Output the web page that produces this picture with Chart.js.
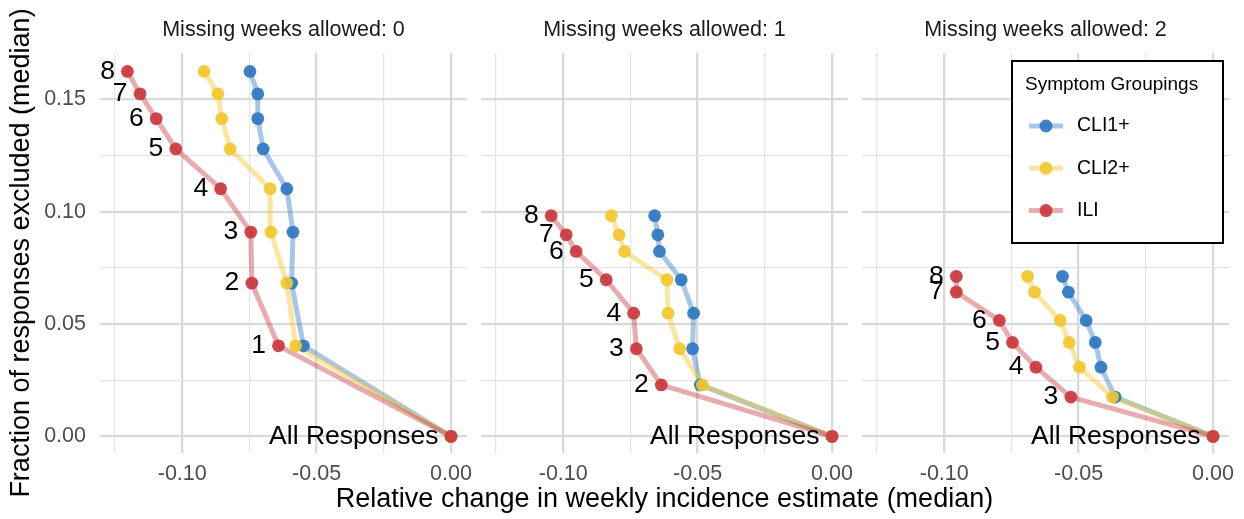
<!DOCTYPE html>
<html><head><meta charset="utf-8">
<script src="https://cdn.jsdelivr.net/npm/chart.js@4.4.1/dist/chart.umd.min.js"></script>
<style>
html,body{margin:0;padding:0;background:#fff;}
#wrap{position:relative;width:1244px;height:519px;overflow:hidden;background:#fff;}
canvas{position:absolute;left:0;top:0;}
</style></head><body>
<div id="wrap">
<canvas id="c0" width="1244" height="519"></canvas>
<canvas id="c1" width="1244" height="519"></canvas>
<canvas id="c2" width="1244" height="519"></canvas>
</div>
<script>
// ---------- data ----------
const panelTitles = ["Missing weeks allowed: 0", "Missing weeks allowed: 1", "Missing weeks allowed: 2"];
const seriesNames = ["CLI1+", "CLI2+", "ILI"];
const xAxisTitle = "Relative change in weekly incidence estimate (median)";
const yAxisTitle = "Fraction of responses excluded (median)";
const legendTitle = "Symptom Groupings";
const xTickValues = [-0.125, -0.1, -0.075, -0.05, -0.025, 0];
const yTickValues = [0, 0.025, 0.05, 0.075, 0.1, 0.125, 0.15];

// Panel 0: missing weeks allowed 0
const levels0   = ["All Responses", "1", "2", "3", "4", "5", "6", "7", "8"];
const excluded0 = [0, 0.0403, 0.0682, 0.0909, 0.1102, 0.1279, 0.1414, 0.1524, 0.1624];
const cli1_0    = [0, -0.0549, -0.0593, -0.0588, -0.0611, -0.0699, -0.0719, -0.0719, -0.0748];
const cli2_0    = [0, -0.0578, -0.0611, -0.0670, -0.0673, -0.0822, -0.0853, -0.0867, -0.0919];
const ili_0     = [0, -0.0642, -0.0741, -0.0745, -0.0857, -0.1024, -0.1097, -0.1157, -0.1204];

// Panel 1: missing weeks allowed 1
const levels1   = ["All Responses", "2", "3", "4", "5", "6", "7", "8"];
const excluded1 = [0, 0.0229, 0.0390, 0.0548, 0.0697, 0.0823, 0.0897, 0.0982];
const cli1_1    = [0, -0.0490, -0.0519, -0.0515, -0.0561, -0.0642, -0.0648, -0.0660];
const cli2_1    = [0, -0.0482, -0.0567, -0.0610, -0.0614, -0.0772, -0.0792, -0.0821];
const ili_1     = [0, -0.0635, -0.0728, -0.0738, -0.0840, -0.0952, -0.0989, -0.1045];

// Panel 2: missing weeks allowed 2
const levels2   = ["All Responses", "3", "4", "5", "6", "7", "8"];
const excluded2 = [0, 0.0175, 0.0308, 0.0418, 0.0516, 0.0642, 0.0712];
const cli1_2    = [0, -0.0364, -0.0417, -0.0438, -0.0472, -0.0538, -0.0560];
const cli2_2    = [0, -0.0374, -0.0497, -0.0535, -0.0568, -0.0664, -0.0690];
const ili_2     = [0, -0.0529, -0.0659, -0.0746, -0.0795, -0.0955, -0.0955];

// ---------- styling ----------
const FONT = "'Liberation Sans', Arial, Helvetica, sans-serif";
Chart.defaults.font.family = FONT;
const pointColors = ['rgba(47,119,195,0.93)', 'rgba(242,199,48,0.93)', 'rgba(201,57,63,0.93)'];
const lineColors  = ['rgba(47,119,195,0.42)', 'rgba(242,199,48,0.45)', 'rgba(201,57,63,0.42)'];
const panels = [
  {levels: levels0, y: excluded0, series: [cli1_0, cli2_0, ili_0]},
  {levels: levels1, y: excluded1, series: [cli1_1, cli2_1, ili_1]},
  {levels: levels2, y: excluded2, series: [cli1_2, cli2_2, ili_2]}
];
const areaLeft  = [100, 481, 862];
const areaRight = [467, 848, 1229];
const CW = 1244, CH = 519;

const isMajor = v => Math.abs(Math.round(v / 0.05) * 0.05 - v) < 1e-9;
const gridColor = ctx => (ctx.tick && isMajor(ctx.tick.value)) ? '#d9d9d9' : '#e4e4e4';
const gridWidth = ctx => (ctx.tick && isMajor(ctx.tick.value)) ? 2.3 : 1.2;

// labels next to ILI points
const pointLabelPlugin = {
  id: 'pointLabels',
  afterDatasetsDraw(chart) {
    const P = panels[chart.options.panelIndex];
    const idx = chart.data.datasets.findIndex(d => d.label === 'ILI');
    const meta = chart.getDatasetMeta(idx);
    const ctx = chart.ctx;
    ctx.save();
    ctx.font = '26.5px ' + FONT;
    ctx.fillStyle = '#000';
    ctx.textAlign = 'right';
    ctx.textBaseline = 'middle';
    meta.data.forEach((pt, i) => { ctx.fillText(P.levels[i], pt.x - 12.5, pt.y); });
    ctx.restore();
  }
};

// shared axis titles (span several panels)
const axisTitlePlugin = {
  id: 'axisTitles',
  afterDraw(chart) {
    const p = chart.options.panelIndex;
    const ctx = chart.ctx, ca = chart.chartArea;
    ctx.save();
    ctx.font = '27px ' + FONT;
    ctx.fillStyle = '#000';
    ctx.textAlign = 'center';
    ctx.textBaseline = 'middle';
    if (p === 0) {
      ctx.translate(22, (ca.top + ca.bottom) / 2);
      ctx.rotate(-Math.PI / 2);
      ctx.fillText(yAxisTitle, 0, 0);
    } else if (p === 1) {
      ctx.fillText(xAxisTitle, (ca.left + ca.right) / 2, 500);
    }
    ctx.restore();
  }
};

// boxed legend inside last panel
const legendBoxPlugin = {
  id: 'legendBox',
  afterDraw(chart) {
    if (chart.options.panelIndex !== 2) return;
    const ctx = chart.ctx, ca = chart.chartArea;
    const bx = ca.right - 217, by = ca.top + 8, bw = 211, bh = 182;
    ctx.save();
    ctx.fillStyle = '#fff';
    ctx.fillRect(bx, by, bw, bh);
    ctx.strokeStyle = '#000';
    ctx.lineWidth = 2;
    ctx.strokeRect(bx, by, bw, bh);
    ctx.fillStyle = '#000';
    ctx.textAlign = 'left';
    ctx.textBaseline = 'middle';
    ctx.font = '19px ' + FONT;
    ctx.fillText(legendTitle, bx + 13, by + 24);
    for (let s = 0; s < 3; s++) {
      const cy = by + 65 + s * 42.3;
      ctx.strokeStyle = lineColors[s];
      ctx.lineWidth = 5;
      ctx.beginPath();
      ctx.moveTo(bx + 17, cy);
      ctx.lineTo(bx + 51, cy);
      ctx.stroke();
      ctx.fillStyle = pointColors[s];
      ctx.beginPath();
      ctx.arc(bx + 34, cy, 6.5, 0, Math.PI * 2);
      ctx.fill();
      ctx.fillStyle = '#000';
      ctx.font = '19.5px ' + FONT;
      ctx.fillText(seriesNames[s], bx + 65, cy);
    }
    ctx.restore();
  }
};

function makeChart(p) {
  const P = panels[p];
  const datasets = [];
  for (let s = 0; s < 3; s++) {
    const pts = P.series[s].map((v, i) => ({x: v, y: P.y[i]}));
    datasets.push({
      label: seriesNames[s], data: pts, showLine: false,
      pointRadius: 6.4, pointHoverRadius: 6.4, pointBorderWidth: 0,
      pointBackgroundColor: pointColors[s], order: 3 - s, clip: false
    });
    datasets.push({
      label: seriesNames[s] + ' line', data: pts, showLine: true,
      borderColor: lineColors[s], borderWidth: 5, pointRadius: 0, pointHoverRadius: 0,
      borderJoinStyle: 'round', borderCapStyle: 'round', order: 6 - s, clip: false
    });
  }
  return new Chart(document.getElementById('c' + p), {
    type: 'scatter',
    data: {datasets},
    options: {
      panelIndex: p,
      responsive: false,
      animation: false,
      devicePixelRatio: 1,
      events: [],
      layout: {padding: {left: 0, top: 0, bottom: 0, right: CW - areaRight[p]}},
      plugins: {
        legend: {display: false},
        tooltip: {enabled: false},
        title: {
          display: true, text: panelTitles[p], fullSize: false,
          font: {size: 21.5, weight: 'normal', family: FONT}, color: '#1a1a1a',
          padding: {top: 17, bottom: 10.2}
        }
      },
      scales: {
        x: {
          type: 'linear', min: -0.1306, max: 0.00595,
          afterBuildTicks: a => { a.ticks = xTickValues.map(v => ({value: v})); },
          afterFit: a => { a.height = CH - 453; },
          grid: {drawTicks: false, color: gridColor, lineWidth: gridWidth},
          border: {display: false},
          ticks: {
            padding: 8, autoSkip: false, maxRotation: 0, color: '#4d4d4d',
            font: {size: 21.5},
            callback: v => isMajor(v) ? v.toFixed(2) : ''
          }
        },
        y: {
          type: 'linear', min: -0.0074, max: 0.1706,
          afterBuildTicks: a => { a.ticks = yTickValues.map(v => ({value: v})); },
          afterFit: a => { a.width = areaLeft[p]; },
          grid: {drawTicks: false, color: gridColor, lineWidth: gridWidth},
          border: {display: false},
          ticks: {
            display: p === 0, padding: 14, color: '#4d4d4d',
            font: {size: 21.5},
            callback: v => isMajor(v) ? v.toFixed(2) : ''
          }
        }
      }
    },
    plugins: [pointLabelPlugin, axisTitlePlugin, legendBoxPlugin]
  });
}
[0, 1, 2].forEach(makeChart);
</script>
</body></html>
